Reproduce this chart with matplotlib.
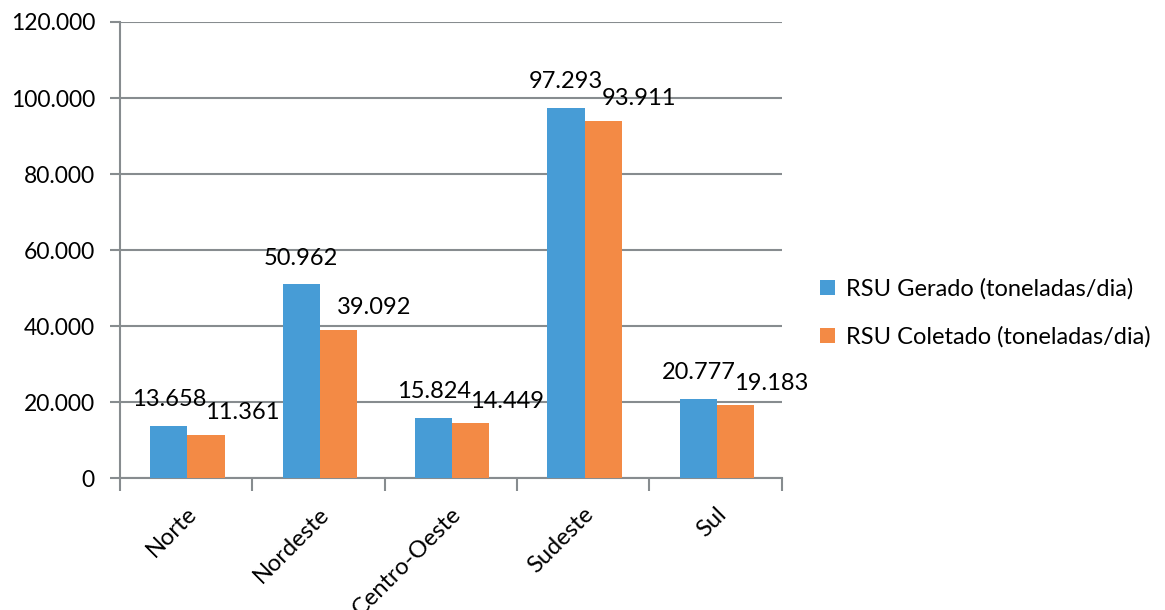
import numpy as np
from matplotlib import pyplot as plt
from matplotlib.ticker import FuncFormatter, FixedLocator

plt.rcParams['font.family'] = ['Lato', 'DejaVu Sans']

# data
regioes = ['Norte', 'Nordeste', 'Centro-Oeste', 'Sudeste', 'Sul']
gerado = [13658, 50962, 15824, 97293, 20777]
coletado = [11361, 39092, 14449, 93911, 19183]
serie_nomes = ['RSU Gerado (toneladas/dia)', 'RSU Coletado (toneladas/dia)']

azul = '#479cd6'
laranja = '#f38a45'
cinza = '#878c8f'

def fmt(v):
    return '{:,.0f}'.format(v).replace(',', '.')

fig = plt.figure(figsize=(11.65, 6.1), dpi=100)
ax = fig.add_axes([0.103, 0.216, 0.568, 0.748])

x = np.arange(len(regioes))
w = 0.28
b1 = ax.bar(x - w / 2 + 0.01, gerado, w, color=azul, label=serie_nomes[0], zorder=3)
b2 = ax.bar(x + w / 2 + 0.01, coletado, w, color=laranja, label=serie_nomes[1], zorder=3)

# value labels
for rect, v in zip(b1, gerado):
    ax.annotate(fmt(v), (rect.get_x() + rect.get_width() / 2, v),
                xytext=(0, 19), textcoords='offset points',
                ha='center', va='center', fontsize=17, zorder=4)
for rect, v in zip(b2, coletado):
    ax.annotate(fmt(v), (rect.get_x() + rect.get_width() / 2, v),
                xytext=(26, 16), textcoords='offset points',
                ha='center', va='center', fontsize=17, zorder=4)

ax.set_xlim(-0.5, len(regioes) - 0.5)
ax.set_ylim(0, 120000)
ax.set_yticks(np.arange(0, 120001, 20000))
ax.yaxis.set_major_formatter(FuncFormatter(lambda v, p: fmt(v)))
ax.yaxis.grid(True, color=cinza, linewidth=1.5, zorder=0)

# category boundary ticks on x
ax.xaxis.set_major_locator(FixedLocator(np.arange(-0.5, len(regioes), 1)))
ax.xaxis.set_major_formatter(FuncFormatter(lambda v, p: ''))
ax.xaxis.set_minor_locator(FixedLocator(x))
ax.set_xticklabels(regioes, minor=True, rotation=45, ha='right',
                   rotation_mode='anchor', fontsize=17)
ax.tick_params(axis='x', which='minor', length=0, pad=18)
ax.tick_params(axis='x', which='major', length=9, width=1.5, color=cinza)
ax.tick_params(axis='y', length=7, width=1.5, color=cinza, labelsize=16.5, pad=11)

for s in ['top', 'right']:
    ax.spines[s].set_visible(False)
for s in ['left', 'bottom']:
    ax.spines[s].set_color(cinza)
    ax.spines[s].set_linewidth(1.5)

fig.legend(handles=[b1, b2], loc='center left', bbox_to_anchor=(0.686, 0.487),
           frameon=False, fontsize=17, handlelength=0.6, handleheight=0.6,
           handletextpad=0.5, labelspacing=1.15)

plt.savefig('out.png', dpi=100)
